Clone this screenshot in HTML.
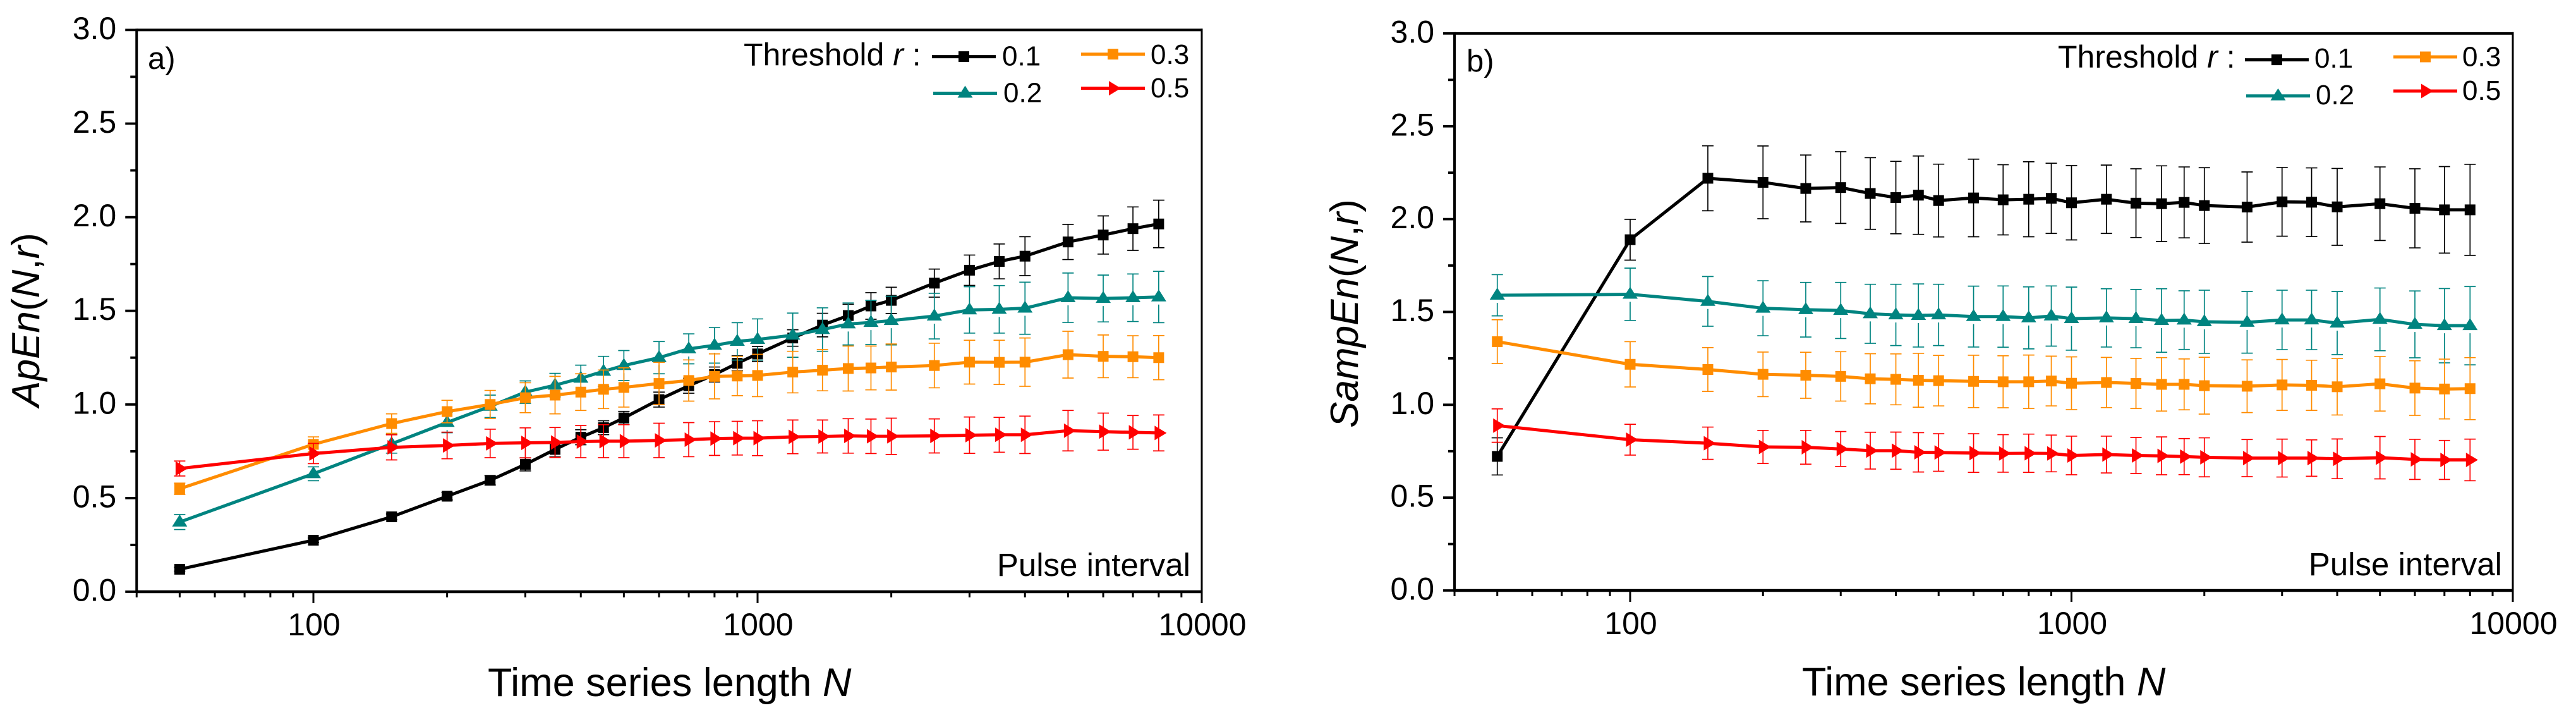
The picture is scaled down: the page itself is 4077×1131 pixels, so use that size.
<!DOCTYPE html>
<html lang="en">
<head>
<meta charset="utf-8">
<title>ApEn and SampEn versus time series length</title>
<style>
  html, body { margin: 0; padding: 0; background: #fff; }
  svg { display: block; font-family: "Liberation Sans", Arial, sans-serif; fill: #000; }
  .it { font-style: italic; }
</style>
</head>
<body>
<svg id="figure" xmlns="http://www.w3.org/2000/svg" width="4077" height="1131" viewBox="0 0 4077 1131">
  <rect x="0" y="0" width="4077" height="1131" fill="#ffffff"/>
  <g id="panel-a"></g>
  <g id="panel-b"></g>

  <text x="234" y="109" font-size="49">a)</text>
  <text x="2321" y="113" font-size="49">b)</text>

  <text transform="translate(62 506) rotate(-90)" text-anchor="middle" font-size="62"><tspan class="it">ApEn</tspan>(<tspan class="it">N</tspan>,<tspan class="it">r</tspan>)</text>
  <text transform="translate(2149 496) rotate(-90)" text-anchor="middle" font-size="62"><tspan class="it">SampEn</tspan>(<tspan class="it">N</tspan>,<tspan class="it">r</tspan>)</text>

  <text x="772" y="1101" font-size="63">Time series length <tspan class="it">N</tspan></text>
  <text x="2852" y="1100" font-size="63">Time series length <tspan class="it">N</tspan></text>

  <text x="1177" y="103.5" font-size="50">Threshold <tspan class="it">r</tspan> :</text>
  <text x="3257" y="107" font-size="50">Threshold <tspan class="it">r</tspan> :</text>

  <text x="1884" y="911" text-anchor="end" font-size="51">Pulse interval</text>
  <text x="3960" y="910" text-anchor="end" font-size="51">Pulse interval</text>
</svg>

<script>
// ---------- shared categories and tick labels ----------
const lengthsN = [50,100,150,200,250,300,350,400,450,500,600,700,800,900,1000,1200,1400,1600,1800,2000,2500,3000,3500,4000,5000,6000,7000,8000];
const xMajorTicks = [100,1000,10000];
const xMajorLabels = ['100','1000','10000'];
const xMinorTicks = [40,50,60,70,80,90,200,300,400,500,600,700,800,900,2000,3000,4000,5000,6000,7000,8000,9000];
const yMajorTicks = [0,0.5,1,1.5,2,2.5,3];
const yMajorLabels = ['0.0','0.5','1.0','1.5','2.0','2.5','3.0'];
const yMinorTicks = [0.25,0.75,1.25,1.75,2.25,2.75];
const thresholdLabels = ['0.1','0.2','0.3','0.5'];

// ---------- panel a: ApEn ----------
const apEn01 = [0.12,0.275,0.40,0.51,0.595,0.68,0.76,0.825,0.876,0.928,1.026,1.10,1.16,1.22,1.27,1.355,1.424,1.475,1.526,1.556,1.648,1.717,1.764,1.792,1.868,1.905,1.939,1.964];
const apEn01Err = [0.01,0.012,0.015,0.02,0.025,0.035,0.04,0.04,0.037,0.035,0.04,0.04,0.04,0.04,0.04,0.044,0.063,0.06,0.071,0.07,0.075,0.081,0.093,0.104,0.094,0.102,0.116,0.127];
const apEn02 = [0.372,0.63,0.79,0.904,0.99,1.066,1.103,1.14,1.177,1.208,1.25,1.297,1.316,1.337,1.347,1.37,1.40,1.43,1.438,1.448,1.472,1.505,1.508,1.514,1.57,1.566,1.57,1.574];
const apEn02Err = [0.04,0.037,0.05,0.055,0.06,0.06,0.063,0.07,0.08,0.08,0.086,0.08,0.095,0.1,0.11,0.118,0.116,0.112,0.118,0.13,0.122,0.124,0.127,0.139,0.132,0.125,0.127,0.137];
const apEn03 = [0.55,0.787,0.898,0.962,1.0,1.036,1.05,1.066,1.081,1.091,1.112,1.128,1.15,1.152,1.155,1.173,1.183,1.192,1.195,1.2,1.208,1.226,1.225,1.226,1.266,1.257,1.255,1.25];
const apEn03Err = [0.03,0.04,0.052,0.06,0.075,0.08,0.1,0.098,0.103,0.105,0.113,0.11,0.12,0.105,0.113,0.111,0.11,0.12,0.117,0.123,0.119,0.117,0.118,0.129,0.125,0.114,0.112,0.118];
const apEn05 = [0.658,0.738,0.771,0.781,0.792,0.795,0.797,0.802,0.804,0.804,0.808,0.812,0.818,0.82,0.82,0.827,0.829,0.832,0.83,0.83,0.832,0.836,0.838,0.838,0.86,0.855,0.851,0.848];
const apEn05Err = [0.04,0.054,0.067,0.071,0.076,0.08,0.08,0.086,0.088,0.088,0.092,0.091,0.09,0.09,0.093,0.09,0.088,0.092,0.092,0.097,0.091,0.097,0.093,0.1,0.108,0.099,0.09,0.096];

// ---------- panel b: SampEn ----------
const sampEn01 = [0.722,1.889,2.22,2.198,2.165,2.17,2.138,2.116,2.129,2.10,2.114,2.104,2.107,2.112,2.088,2.107,2.086,2.083,2.09,2.073,2.065,2.093,2.091,2.066,2.083,2.058,2.05,2.05];
const sampEn01Err = [0.1,0.11,0.175,0.196,0.18,0.193,0.193,0.195,0.211,0.196,0.209,0.189,0.202,0.189,0.2,0.184,0.185,0.204,0.191,0.204,0.189,0.185,0.185,0.207,0.198,0.213,0.233,0.245];
const sampEn02 = [1.59,1.595,1.557,1.52,1.512,1.508,1.49,1.484,1.481,1.484,1.475,1.475,1.468,1.478,1.464,1.468,1.464,1.454,1.456,1.447,1.444,1.457,1.457,1.44,1.46,1.433,1.426,1.426];
const sampEn02Err = [0.111,0.141,0.134,0.148,0.147,0.151,0.159,0.165,0.17,0.165,0.164,0.165,0.167,0.162,0.17,0.157,0.157,0.171,0.158,0.17,0.166,0.16,0.16,0.17,0.169,0.18,0.2,0.211];
const sampEn03 = [1.34,1.218,1.19,1.164,1.159,1.153,1.14,1.137,1.132,1.13,1.126,1.124,1.124,1.128,1.116,1.12,1.115,1.11,1.11,1.103,1.10,1.107,1.105,1.097,1.113,1.09,1.085,1.087];
const sampEn03Err = [0.118,0.122,0.118,0.12,0.124,0.133,0.135,0.137,0.145,0.136,0.141,0.14,0.144,0.134,0.142,0.135,0.135,0.144,0.137,0.153,0.142,0.137,0.135,0.152,0.147,0.147,0.161,0.167];
const sampEn05 = [0.888,0.812,0.793,0.773,0.771,0.762,0.753,0.753,0.744,0.743,0.74,0.738,0.739,0.738,0.727,0.732,0.727,0.725,0.721,0.717,0.713,0.713,0.713,0.709,0.715,0.706,0.703,0.703];
const sampEn05Err = [0.09,0.083,0.087,0.089,0.091,0.094,0.099,0.1,0.106,0.101,0.104,0.101,0.103,0.099,0.104,0.099,0.097,0.102,0.097,0.105,0.1,0.102,0.098,0.107,0.114,0.108,0.105,0.112];

const SVGNS = 'http://www.w3.org/2000/svg';
function node(tag, parent, attrs) {
  const el = document.createElementNS(SVGNS, tag);
  for (const k in attrs) el.setAttribute(k, attrs[k]);
  parent.appendChild(el);
  return el;
}

const styles = {
  black:  { color: '#000000', kind: 'square',   gap: 0 },
  teal:   { color: '#008480', kind: 'triangle', gap: 12 },
  orange: { color: '#ff8c00', kind: 'square',   gap: 0 },
  red:    { color: '#ff0000', kind: 'right',    gap: 0 }
};

function marker(parent, kind, color, cx, cy, name) {
  let el;
  if (kind === 'square') {
    el = node('rect', parent, { x: cx - 8.5, y: cy - 8.5, width: 17, height: 17, fill: color });
  } else if (kind === 'triangle') {
    const pts = [[cx, cy - 12], [cx + 12, cy + 7], [cx - 12, cy + 7]].map(p => p.join(',')).join(' ');
    el = node('polygon', parent, { points: pts, fill: color });
  } else {
    const pts = [[cx - 6.5, cy - 11.5], [cx + 12.5, cy], [cx - 6.5, cy + 11.5]].map(p => p.join(',')).join(' ');
    el = node('polygon', parent, { points: pts, fill: color });
  }
  
  
  return el;
}

function drawPanel(cfg) {
  const root = document.getElementById(cfg.id);
  const xScale = n => cfg.x100 + (Math.log10(n) - 2) * cfg.decade;
  const yScale = v => cfg.y0 - v * cfg.unit;
  const left = xScale(40), right = xScale(10000), top = yScale(3), bottom = yScale(0);

  // series: error bars, line, markers
  cfg.series.forEach((s, si) => {
    const st = styles[s.style];
    const g = node('g', root, {});
    
    

    lengthsN.forEach((n, i) => {
      const cx = xScale(n), cy = yScale(s.values[i]);
      const hi = yScale(s.values[i] + s.errors[i]), lo = yScale(s.values[i] - s.errors[i]);
      const bar = node('path', g, {
        d: 'M' + cx + ' ' + cy + 'V' + hi + 'M' + (cx - 9) + ' ' + hi + 'H' + (cx + 9) +
           'M' + cx + ' ' + Math.min(cy + st.gap, lo) + 'V' + lo + 'M' + (cx - 9) + ' ' + lo + 'H' + (cx + 9),
        stroke: st.color, 'stroke-width': 1.7, fill: 'none'
      });
      
      
    });

    const pts = lengthsN.map((n, i) => xScale(n) + ',' + yScale(s.values[i])).join(' ');
    const line = node('polyline', g, { points: pts, fill: 'none', stroke: st.color, 'stroke-width': 5, 'stroke-linejoin': 'round' });
    
    

    lengthsN.forEach((n, i) => {
      marker(g, st.kind, st.color, xScale(n), yScale(s.values[i]), 'series-point');
    });
  });

  // axes frame
  const frame = node('g', root, {});
  
  

  const spines = [
    ['left-spine', left, top - 2, left, bottom + 2, 4],
    ['bottom-spine', left, bottom, right + 1.5, bottom, 4.4],
    ['top-spine', left, top, right + 1.5, top, 4],
    ['right-spine', right, top - 2, right, bottom + 2, 3]
  ];
  spines.forEach(sp => {
    const l = node('line', frame, { x1: sp[1], y1: sp[2], x2: sp[3], y2: sp[4], stroke: '#000', 'stroke-width': sp[5] });
    
    
  });

  yMajorTicks.forEach((v, i) => {
    const t = node('line', frame, { x1: left - 18, y1: yScale(v), x2: left, y2: yScale(v), stroke: '#000', 'stroke-width': 3.8 });
    
    
    const lab = node('text', frame, { x: left - 32, y: yScale(v) + 14.5, 'text-anchor': 'end', 'font-size': 50 });
    lab.textContent = yMajorLabels[i];
    
    
  });
  yMinorTicks.forEach(v => {
    const t = node('line', frame, { x1: left - 10, y1: yScale(v), x2: left, y2: yScale(v), stroke: '#000', 'stroke-width': 3.8 });
    
    
  });
  xMajorTicks.forEach((n, i) => {
    const t = node('line', frame, { x1: xScale(n), y1: bottom, x2: xScale(n), y2: bottom + 18, stroke: '#000', 'stroke-width': 3 });
    
    
    const lab = node('text', frame, { x: xScale(n) + 1, y: bottom + 69, 'text-anchor': 'middle', 'font-size': 50 });
    lab.textContent = xMajorLabels[i];
    
    
  });
  xMinorTicks.forEach(n => {
    const t = node('line', frame, { x1: xScale(n), y1: bottom, x2: xScale(n), y2: bottom + 9, stroke: '#000', 'stroke-width': 3 });
    
    
  });

  // legend
  const legend = node('g', root, {});
  
  
  cfg.legend.forEach((e, i) => {
    const st = styles[cfg.series[i].style];
    const entry = node('g', legend, {});
    
    
    const l = node('line', entry, { x1: e.x1, y1: e.y, x2: e.x1 + 101, y2: e.y, stroke: st.color, 'stroke-width': 5 });
    
    
    marker(entry, st.kind, st.color, e.x1 + 50.5, e.y, 'legend-marker');
    const txt = node('text', entry, { x: e.tx, y: e.ty, 'font-size': 44 });
    txt.textContent = thresholdLabels[i];
    
    
  });
}

drawPanel({
  id: 'panel-a', prefix: 'panel-a',
  x100: 496, decade: 703, y0: 936, unit: 296.2,
  series: [
    { style: 'black',  values: apEn01, errors: apEn01Err },
    { style: 'teal',   values: apEn02, errors: apEn02Err },
    { style: 'orange', values: apEn03, errors: apEn03Err },
    { style: 'red',    values: apEn05, errors: apEn05Err }
  ],
  legend: [
    { x1: 1475, y: 89.6,  tx: 1586, ty: 103.6 },
    { x1: 1477, y: 147.5, tx: 1588, ty: 161.4 },
    { x1: 1711, y: 85.7,  tx: 1821, ty: 101 },
    { x1: 1711, y: 139.6, tx: 1821, ty: 154 }
  ]
});

drawPanel({
  id: 'panel-b', prefix: 'panel-b',
  x100: 2580, decade: 698.5, y0: 934, unit: 293.7,
  series: [
    { style: 'black',  values: sampEn01, errors: sampEn01Err },
    { style: 'teal',   values: sampEn02, errors: sampEn02Err },
    { style: 'orange', values: sampEn03, errors: sampEn03Err },
    { style: 'red',    values: sampEn05, errors: sampEn05Err }
  ],
  legend: [
    { x1: 3553, y: 94.6,  tx: 3663, ty: 107 },
    { x1: 3555, y: 151.8, tx: 3665, ty: 165 },
    { x1: 3788, y: 90,    tx: 3897, ty: 104.6 },
    { x1: 3788, y: 144,   tx: 3897, ty: 158 }
  ]
});
</script>
</body>
</html>
